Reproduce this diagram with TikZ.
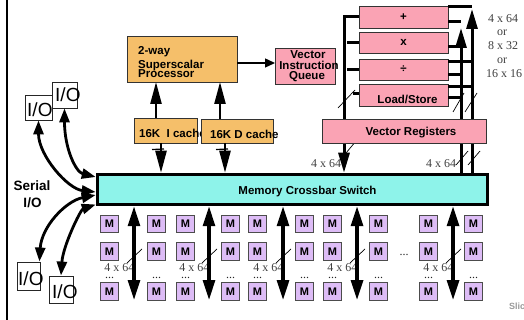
\documentclass[tikz,border=0pt]{standalone}
\usepackage{fontspec}
\setmainfont{Liberation Sans}
\newfontfamily\tmsfont{Liberation Serif}
\usetikzlibrary{arrows.meta}
\definecolor{orng}{HTML}{F5BF6A}
\definecolor{pnk}{HTML}{FAA3B4}
\definecolor{cyn}{HTML}{8EF3EA}
\definecolor{lav}{HTML}{DDBCF6}
\definecolor{edge}{HTML}{333333}
\begin{document}
\begin{tikzpicture}[x=1pt,y=-1pt,
  box/.style={draw=edge,line width=0.9pt,inner sep=0pt,outer sep=0pt,font=\bfseries\fontsize{11.5}{12}\selectfont},
  obox/.style={box,fill=orng},
  pbox/.style={box,fill=pnk},
  mbox/.style={draw=black!70,line width=1.1pt,fill=lav,minimum width=17.5pt,minimum height=17.5pt,inner sep=0pt,font=\bfseries\fontsize{11}{11}\selectfont},
  iobox/.style={draw=black!85,line width=0.9pt,fill=white,inner sep=0pt},
  iotxt/.style={font=\fontsize{19}{19}\selectfont,inner sep=0pt,anchor=base west},
  lbl/.style={font=\bfseries\fontsize{11.5}{12}\selectfont,inner sep=0pt},
  ser/.style={font=\tmsfont\fontsize{12}{12}\selectfont,text=black!75,inner sep=0pt},
  bus/.style={line width=3pt},
  busar/.style={line width=3pt,-{Triangle[length=20pt,width=11pt]}},
  cachear/.style={line width=2.5pt,-{Triangle[length=22pt,width=11pt]}},
  mbus/.style={line width=3.2pt,{Triangle[length=20pt,width=12pt]}-{Triangle[length=20pt,width=12pt]}},
  iobus/.style={line width=2.8pt,{Triangle[length=14pt,width=10pt]}-{Triangle[length=14pt,width=10pt]}},
  sl/.style={line width=0.7pt},
]
\useasboundingbox (0,0) rectangle (524,320);
\draw[line width=2.4pt] (7,0) -- (7,320);

% processor and caches
\node[obox,minimum width=110pt,minimum height=46pt] (proc) at (182,59) {};
\node[lbl,anchor=base west] (t2way) at (138,54.5) {2-way};
\node[lbl,anchor=base west] (tsup) at (138,68.5) {Superscalar};
\node[lbl,anchor=base west] (tproc) at (138,77.5) {Processor};

\node[obox,minimum width=63pt,minimum height=25pt] (icache) at (165.5,130.5) {};
\node[lbl,anchor=base west] (ti) at (139,137.5) {16K\ \ I cache};
\node[obox,minimum width=72pt,minimum height=24pt] (dcache) at (237,131) {};
\node[lbl,anchor=base west] (td) at (210,138.5) {16K D cache};

% vector instruction queue
\node[pbox,minimum width=60pt,minimum height=36pt] (viq) at (305,66) {};
\node[lbl,anchor=base] (tv1) at (308,59) {Vector};
\node[lbl,anchor=base] (tv2) at (309,69.5) {Instruction};
\node[lbl,anchor=base] (tv3) at (307,80) {Queue};

% crossbar
\node[draw=black,line width=3.5pt,fill=cyn,minimum width=390pt,minimum height=30pt,inner sep=0pt] (xbar) at (292.5,189.5) {};
\node[lbl,anchor=base] (txbar) at (307.5,195) {Memory Crossbar Switch};

% function units
\node[pbox,minimum width=89pt,minimum height=22pt] (fadd) at (403.5,17) {+};
\node[pbox,minimum width=89pt,minimum height=21pt] (fmul) at (403.5,42.5) {x};
\node[pbox,minimum width=89pt,minimum height=21pt] (fdiv) at (403.5,69.5) {÷};
\node[pbox,minimum width=89pt,minimum height=22pt] (fls) at (403.5,95) {};
\node[lbl,anchor=base] (tls) at (407.5,103.5) {Load/Store};

% processor arrows
\coordinate (pa1) at (156,0);
\coordinate (pa2) at (220,0);
\coordinate (pa3) at (161,0);
\coordinate (pa4) at (225,0);
\draw[cachear] (icache.north -| pa1) -- (proc.south -| pa1);
\draw[cachear] (dcache.north -| pa2) -- (proc.south -| pa2);
\draw[cachear] (icache.south -| pa3) -- (xbar.north -| pa3);
\draw[cachear] (dcache.south -| pa4) -- (xbar.north -| pa4);
\draw[line width=1.2pt] (152,149.5) -- (164,149);
\draw[line width=1.2pt] (216,149.5) -- (228,149);
\coordinate (qa) at (0,63);
\draw[line width=1.4pt,-{Triangle[length=10pt,width=9pt]}] (proc.east |- qa) -- (viq.west |- qa);

% vector unit buses
\coordinate (vl) at (344,17);
\draw[busar] (fadd.west) -- (fadd.west -| vl) -- (vl |- xbar.north);
\draw[bus] (fmul.west) -- +(-12,0);
\draw[bus] (fdiv.west) -- +(-12,0);
\draw[bus] ([yshift=1pt]fls.west) -- +(-6,0);
\coordinate (r1) at (461,28);
\coordinate (r2) at (472,9);
\draw[busar] (xbar.north -| r1) -- (r1);
\draw[busar] (xbar.north -| r2) -- (r2);
\draw[bus] ([yshift=10pt]fadd.east) -- ([yshift=10pt]fadd.east -| r2);
\draw[bus] ([yshift=-5pt]fadd.east) -- ([yshift=-5pt]fadd.east -| r1);
\draw[bus] ([yshift=-4.5pt]fmul.east) -- ([yshift=-4.5pt]fmul.east -| r1);
\draw[bus] ([yshift=7.5pt]fdiv.east) -- ([yshift=7.5pt]fdiv.east -| r2);
\draw[bus] ([yshift=-5.5pt]fdiv.east) -- ([yshift=-5.5pt]fdiv.east -| r1);
\draw[bus] ([yshift=8pt]fls.east) -- ([yshift=8pt]fls.east -| r2);
\draw[bus] ([yshift=-3pt]fls.east) -- ([yshift=-3pt]fls.east -| r1);
\draw[sl] (338,108) -- (355,90);
\draw[sl] (346,153) -- (356,141);
\draw[sl] (453,112) -- (464,93);
\draw[sl] (465,112) -- (477,93);
\draw[sl] (456,165) -- (468,151);
\draw[sl] (468,165) -- (480,151);

\node[pbox,minimum width=164pt,minimum height=24pt] (vreg) at (404,131) {};
\node[lbl,anchor=base] (tvreg) at (411,135.7) {Vector Registers};

\node[ser,anchor=base west] (xl1) at (311,168) {4 x 64};
\node[ser,anchor=base west] (xl2) at (426,168) {4 x 64};

\node[ser,anchor=base] (w1) at (503,22.5) {4 x 64};
\node[ser,anchor=base] (w2) at (502,35.5) {or};
\node[ser,anchor=base] (w3) at (503,49.5) {8 x 32};
\node[ser,anchor=base] (w4) at (502,63.5) {or};
\node[ser,anchor=base] (w5) at (504,77.5) {16 x 16};

% memory banks
\foreach \cx [count=\ci] in {109.5,156.5,185.5,230.5,257.5,304.5,332.5,378.5,428.5,473.5} {
  \foreach \ry [count=\ri] in {224,251.5,291.5} {
    \node[mbox] (m\ci-\ri) at (\cx,\ry) {M};
  }
  \node[ser,text=black!85,anchor=base] (dots\ci) at (\cx,278.5) {...};
}
\node[ser,text=black!85,anchor=base] (dotsmid) at (404,255) {...};

\foreach \ax [count=\ai] in {134,209,283,357,453} {
  \coordinate (mb\ai) at (\ax,300);
  \node[ser,anchor=base east] (ml\ai) at (\ax+0.5,271.5) {4 x 64};
  \draw[mbus] (xbar.south -| mb\ai) -- (mb\ai);
  \draw[sl] (\ax-7,263) -- (\ax+8,249);
}

% I/O
\node[iobox,minimum width=27pt,minimum height=25pt] (ioA) at (38.5,107.5) {};
\node[iotxt] (tA) at (27,117) {I/O};
\node[iobox,minimum width=25pt,minimum height=26pt] (ioB) at (64.5,95) {};
\node[iotxt] (tB) at (55,102) {I/O};
\node[iobox,minimum width=23pt,minimum height=28pt] (ioC) at (28.5,276) {};
\node[iotxt] (tC) at (18,285) {I/O};
\node[iobox,minimum width=24pt,minimum height=27pt] (ioD) at (61,289.5) {};
\node[iotxt] (tD) at (52,298) {I/O};

\draw[iobus] (ioB.south) .. controls +(0,40) and +(-20,-5) .. ([yshift=12.5pt]xbar.west);
\draw[iobus] (ioA.south) .. controls +(0,35) and +(-28,-3) .. ([yshift=-2.5pt]xbar.west);
\draw[iobus] ([xshift=-1pt]ioC.north east) .. controls +(2,-35) and +(-30,6) .. ([yshift=-5.5pt]xbar.west);
\draw[iobus] (ioD.north) .. controls +(2,-30) and +(-15,5) .. ([yshift=-15pt]xbar.west);

\node[font=\bfseries\fontsize{13.5}{14}\selectfont,inner sep=0pt,anchor=base] (ser1) at (32,191) {Serial};
\node[font=\bfseries\fontsize{13.5}{14}\selectfont,inner sep=0pt,anchor=base] (ser2) at (32.5,207.7) {I/O};

\node[font=\bfseries\fontsize{9}{9}\selectfont,text=black!40,inner sep=0pt,anchor=base west] (slide) at (509,309) {Slic};
\end{tikzpicture}
\end{document}
